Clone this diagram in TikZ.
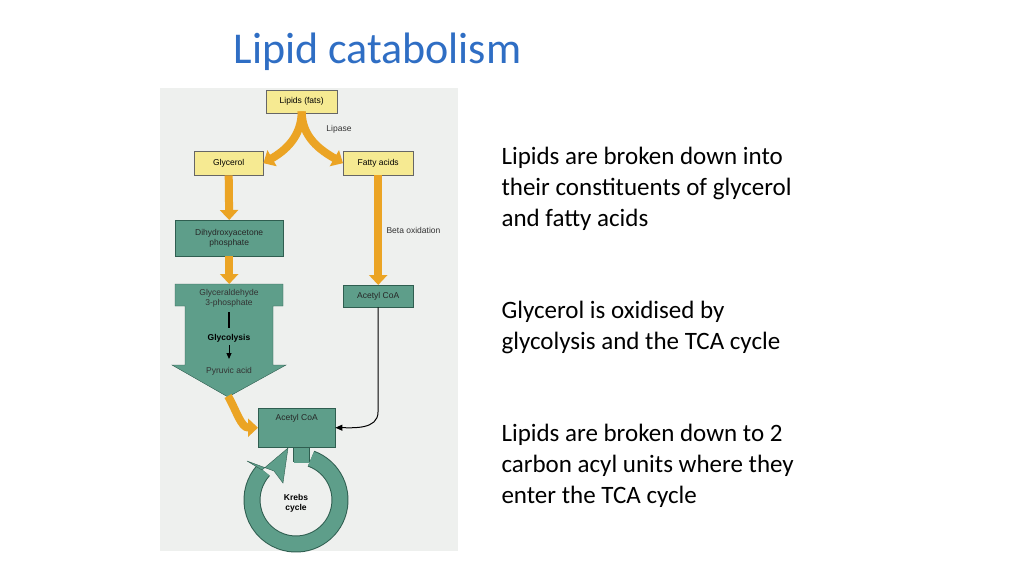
\documentclass[tikz,border=0pt]{standalone}
\usepackage{fontspec}
\setmainfont{Carlito}
\newfontfamily\dsans{Liberation Sans}
\usetikzlibrary{arrows.meta}
\definecolor{bg}{HTML}{EEF0EE}
\definecolor{yel}{HTML}{F6EA92}
\definecolor{teal1}{HTML}{5E9E8A}
\definecolor{tealdk}{HTML}{2F5E50}
\definecolor{org}{HTML}{EBA424}
\definecolor{ttl}{HTML}{2F6EC4}
\begin{document}
\begin{tikzpicture}[x=1pt,y=-1pt,
  ybox/.style={draw=black!60,fill=yel,font=\dsans\fontsize{8.5}{10}\selectfont,inner sep=0pt,anchor=north west},
  tbox/.style={draw=tealdk,fill=teal1,font=\dsans\fontsize{8.5}{10}\selectfont,text=black!85,inner sep=0pt,anchor=north west,align=center},
  oarr/.style={draw=org,line width=8pt,-{Triangle[width=18pt,length=10pt]}},
  lbl/.style={font=\dsans\fontsize{8.5}{10}\selectfont,text=black!80},
  txt/.style={font=\fontsize{25}{31}\selectfont,align=left,anchor=north west}]
\useasboundingbox (0,0) rectangle (1024,576);
\fill[white] (0,0) rectangle (1024,576);
\node[font=\fontsize{44}{50}\selectfont,text=ttl,anchor=west] (title) at (230,52) {Lipid catabolism};
\fill[bg] (160,88) rectangle (458,551);
% boxes
\node[ybox,minimum width=71pt,minimum height=23pt] (lip) at (266,90) {Lipids (fats)};
\node[ybox,minimum width=69pt,minimum height=24pt] (gly) at (194,151) {Glycerol};
\node[ybox,minimum width=70pt,minimum height=24pt] (fa) at (343,151) {Fatty acids};
\node[tbox,minimum width=108pt,minimum height=36pt] (dhap) at (175,220) {Dihydroxyacetone\\phosphate};
\node[tbox,minimum width=70pt,minimum height=22pt] (acr) at (343,285) {Acetyl CoA};
% big arrow
\draw[tealdk,fill=teal1] (175,284) -- (283,284) -- (283,306) -- (273,306) -- (273,365) -- (286,365) -- (228,397) -- (172,365) -- (185,365) -- (185,306) -- (175,306) -- cycle;
\node[lbl,align=center] (g3p) at (229,298) {Glyceraldehyde\\3-phosphate};
\node[font=\dsans\bfseries\fontsize{8.5}{10}\selectfont] (glyc) at (229,338) {Glycolysis};
\node[lbl] (pyr) at (229,371) {Pyruvic acid};
\draw[line width=1.2pt] (229,312) -- (229,328);
\draw[line width=1pt,-{Triangle[width=5pt,length=6pt]}] (229,345) -- (229,359);
\coordinate (tip) at (228,396);
% krebs ring
\draw[tealdk,line width=17pt] (301,446) -- (301,462);
\draw[tealdk,line width=17pt] (296,500) ++(-70:44) arc[start angle=-70,end angle=222,radius=44];
\draw[teal1,line width=15pt] (296,500) ++(-70:44) arc[start angle=-70,end angle=222,radius=44];
\draw[teal1,line width=15pt] (301,445) -- (301,463);
\draw[tealdk,fill=teal1] (247,461) -- (262,470) -- (288,448) -- (283,483) -- (274,471) -- cycle;
\node[tbox,minimum width=77pt,minimum height=39pt] (acb) at (258,408) {Acetyl CoA\\[10pt]};
\node[font=\dsans\bfseries\fontsize{8.5}{10}\selectfont,align=center] (krebs) at (296,503) {Krebs\\cycle};
% orange arrows
\draw[oarr] (lip.south) ++(0,-2) to[out=-90,in=30] (gly.east);
\draw[oarr] (lip.south) ++(0,-2) to[out=-90,in=150] (fa.west);
\draw[oarr] (gly.south) -- (dhap.north);
\draw[oarr] (dhap.south) -- (dhap.south|-284,284);
\draw[oarr] (fa.south) -- node[lbl,right=3pt,pos=0.5,xshift=-2pt] (beta) {Beta oxidation} (acr.north);
\draw[oarr] (tip) to[out=-60,in=180] (acb.west);
\node[lbl] (lipase) at (339,129) {Lipase};
% black arrow
\draw[line width=1pt,-{Triangle[width=6pt,length=7pt]}] (acr.south) -- (378,412) to[out=-90,in=0] (acb.east);
\node[txt] (t1) at (498,144) {Lipids are broken down into\\their constituents of glycerol\\and fatty acids};
\node[txt] (t2) at (498,298) {Glycerol is oxidised by\\glycolysis and the TCA cycle};
\node[txt] (t3) at (498,421) {Lipids are broken down to 2\\carbon acyl units where they\\enter the TCA cycle};
\end{tikzpicture}
\end{document}
